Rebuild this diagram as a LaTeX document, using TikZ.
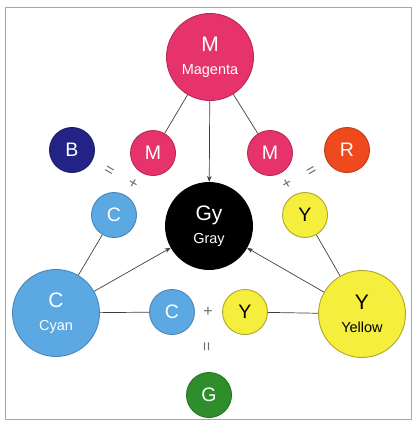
\documentclass[tikz,border=0pt]{standalone}
\usepackage{fontspec}
\setmainfont{Liberation Sans}
\usetikzlibrary{arrows.meta}

\definecolor{mag}{HTML}{E6336C}
\definecolor{cya}{HTML}{5BA8E2}
\definecolor{yel}{HTML}{F6EE3C}
\definecolor{blu}{HTML}{232385}
\definecolor{redc}{HTML}{EE4A1E}
\definecolor{gre}{HTML}{2F8E2C}

\tikzset{
  ball/.style={circle, inner sep=0pt, minimum size=45pt, line width=0.9pt, text=white, font=\fontsize{19.5}{22}\selectfont},
  bigball/.style={ball, minimum size=87pt, align=center, font=\fontsize{21}{24}\selectfont},
  sign/.style={text=gray!85!black, inner sep=0pt, font=\fontsize{16}{16}\selectfont},
  link/.style={draw=black!75, line width=0.7pt},
}
\newcommand{\subtxt}[1]{{\fontsize{14.5}{16}\selectfont #1}}

\begin{document}
\begin{tikzpicture}[x=10pt, y=-10pt, >=Stealth]
\useasboundingbox (0,0) rectangle (41.3,42.1);
\draw[gray!70, line width=0.8pt] (0.5,0.7) rectangle (41.1,41.9);

% primaries
\node[bigball, fill=mag, draw=mag!80!black] (mag) at (21.0,5.7) {M\\[-1pt]\subtxt{Magenta}};
\node[bigball, fill=cya, draw=cya!80!black] (cyan) at (5.6,31.3) {C\\[-1pt]\subtxt{Cyan}};
\node[bigball, fill=yel, draw=yel!70!black, text=black] (yellow) at (36.2,31.4) {Y\\[-1pt]\subtxt{Yellow}};
\node[bigball, fill=black, draw=black] (gray) at (20.9,22.6) {Gy\\[-1pt]\subtxt{Gray}};

% mixing pairs
\node[ball, fill=mag, draw=mag!80!black] (mleft) at (15.3,15.3) {M};
\node[ball, fill=mag, draw=mag!80!black] (mright) at (27.0,15.3) {M};
\node[ball, fill=cya, draw=cya!80!black] (cleft) at (11.4,21.5) {C};
\node[ball, fill=yel, draw=yel!70!black, text=black] (yright) at (30.5,21.5) {Y};
\node[ball, fill=cya, draw=cya!80!black] (cbottom) at (17.2,31.2) {C};
\node[ball, fill=yel, draw=yel!70!black, text=black] (ybottom) at (24.5,31.2) {Y};

% results
\node[ball, fill=blu, draw=blu!80!black] (blue) at (7.2,15.0) {B};
\node[ball, fill=redc, draw=redc!80!black] (red) at (34.7,15.0) {R};
\node[ball, fill=gre, draw=gre!80!black] (green) at (20.9,39.5) {G};

\node[sign, rotate=-30] (eqleft) at (10.9,17.1) {=};
\node[sign, rotate=-30] (plusleft) at (13.3,18.4) {+};
\node[sign, rotate=30] (eqright) at (31.2,17.2) {=};
\node[sign, rotate=30] (plusright) at (28.7,18.4) {+};
\node[sign] (plusbottom) at (20.8,31.2) {+};
\node[sign, rotate=90] (eqbottom) at (20.8,34.7) {=};

\draw[link] (mag) -- (mleft);
\draw[link] (mag) -- (mright);
\draw[link, ->] (mag) -- (gray);
\draw[link] (cyan) -- (cleft);
\draw[link, ->] (cyan) -- (gray);
\draw[link] (cyan) -- (cbottom);
\draw[link] (yellow) -- (yright);
\draw[link, ->] (yellow) -- (gray);
\draw[link] (yellow) -- (ybottom);

\end{tikzpicture}
\end{document}
